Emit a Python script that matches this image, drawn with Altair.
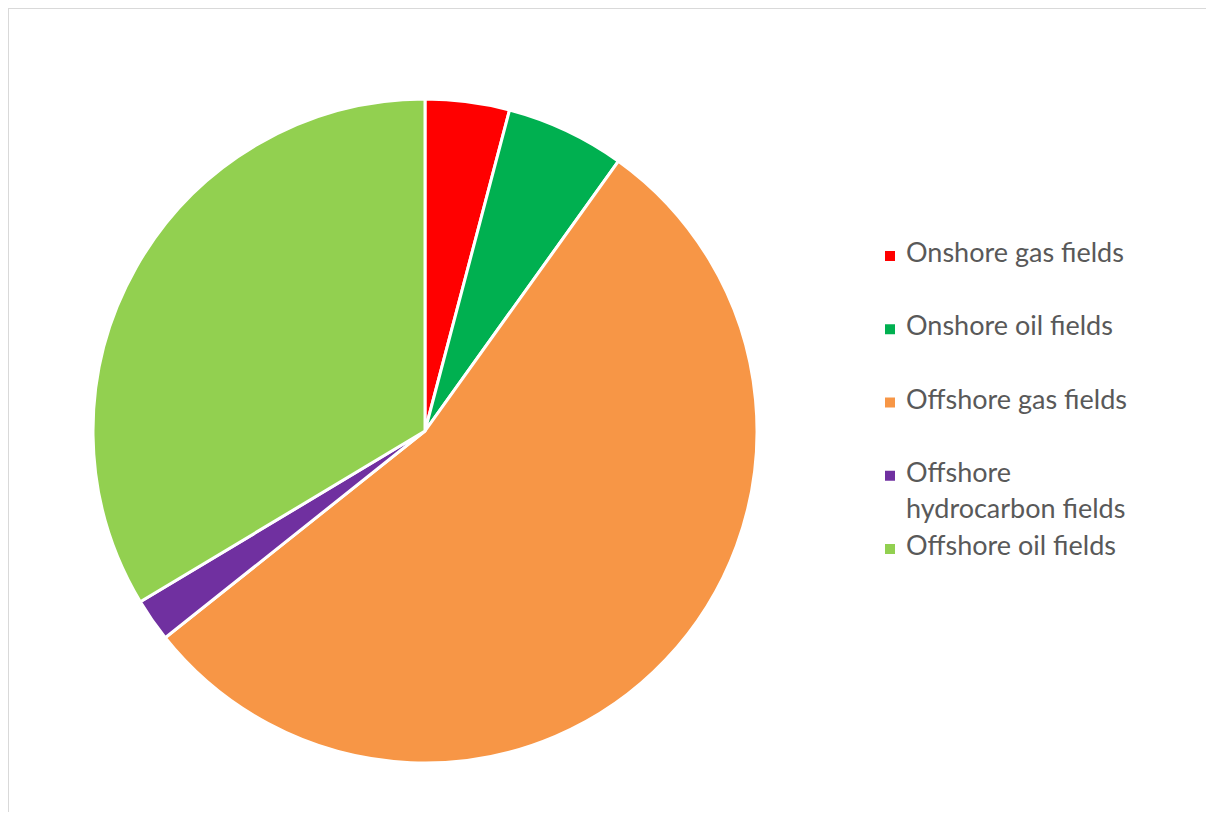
import altair as alt
import pandas as pd

categories = [
    "Onshore gas fields",
    "Onshore oil fields",
    "Offshore gas fields",
    "Offshore hydrocarbon fields",
    "Offshore oil fields",
]
legend_labels = [
    "Onshore gas fields",
    "Onshore oil fields",
    "Offshore gas fields",
    "Offshore\nhydrocarbon fields",
    "Offshore oil fields",
]
shares = [4.1, 5.8, 54.4, 2.1, 33.6]
colors = ["#FF0000", "#00B050", "#F79646", "#7030A0", "#92D050"]
order = [0, 1, 2, 3, 4]

df = pd.DataFrame({"category": categories, "label": legend_labels,
                   "share": shares, "order": order})

W, H = 1198, 804

color = alt.Color("category:N", scale=alt.Scale(domain=categories, range=colors), legend=None)
base = alt.Chart(df)

pie = base.mark_arc(radius=332, stroke="white", strokeWidth=3).encode(
    theta=alt.Theta("share:Q", stack=True),
    color=color,
    order=alt.Order("order:Q"),
    x=alt.value(417),
    y=alt.value(423),
)

ly = alt.Y("category:N", sort=categories,
           scale=alt.Scale(type="point", domain=categories, range=[248, 541], padding=0),
           axis=None)

swatch = base.mark_square(size=100, opacity=1).encode(
    x=alt.value(882), y=ly, color=color)

labels = base.mark_text(align="left", baseline="top", dy=-15, font="Lato", fontSize=27,
                        color="#595959", lineBreak="\n", lineHeight=36).encode(
    x=alt.value(898), y=ly, text="label:N")

frame_df = pd.DataFrame({"k": [0]})
top_rule = alt.Chart(frame_df).mark_rule(color="#D9D9D9", strokeWidth=2).encode(
    x=alt.value(0), x2=alt.value(W), y=alt.value(0))
left_rule = alt.Chart(frame_df).mark_rule(color="#D9D9D9", strokeWidth=2).encode(
    x=alt.value(0), y=alt.value(0), y2=alt.value(H))

chart = alt.layer(top_rule, left_rule, pie, swatch, labels).properties(
    width=W, height=H, padding=0, autosize=alt.AutoSizeParams(type="none")
).configure_view(strokeWidth=0, strokeOpacity=0)

chart.save("out.html", embed_options={"renderer": "svg", "actions": False})
